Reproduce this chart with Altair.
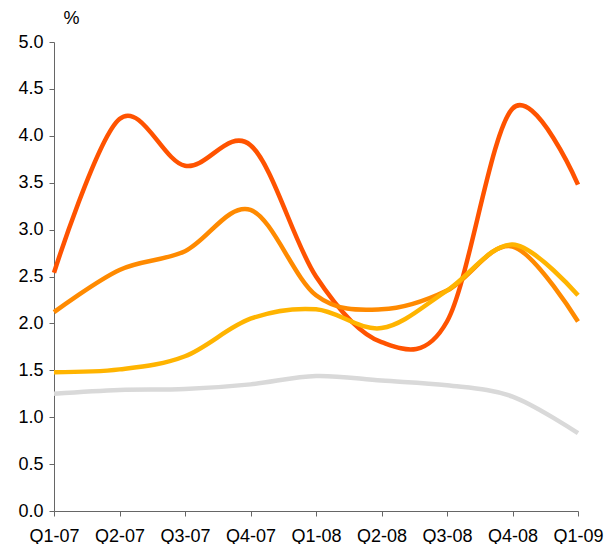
import altair as alt
import pandas as pd

quarters = ["Q1-07", "Q2-07", "Q3-07", "Q4-07", "Q1-08", "Q2-08", "Q3-08", "Q4-08", "Q1-09"]
series_names = ["A", "B", "C", "D"]
red_vals = [2.54, 4.18, 3.68, 3.90, 2.50, 1.80, 2.02, 4.29, 3.48]
orange_vals = [2.12, 2.57, 2.77, 3.21, 2.30, 2.15, 2.35, 2.82, 2.02]
yellow_vals = [1.48, 1.51, 1.65, 2.05, 2.15, 1.95, 2.35, 2.84, 2.30]
gray_vals = [1.25, 1.29, 1.30, 1.35, 1.44, 1.39, 1.34, 1.22, 0.83]
colors = ["#FF5300", "#FF8A00", "#FFB400", "#D9D9D9"]

rows = []
for name, vals in zip(series_names, [red_vals, orange_vals, yellow_vals, gray_vals]):
    for i, (q, v) in enumerate(zip(quarters, vals)):
        rows.append({"quarter": q, "value": v, "series": name, "order": i})
df = pd.DataFrame(rows)

chart = alt.Chart(df).mark_line(interpolate="cardinal", tension=0, strokeWidth=4.5).encode(
    x=alt.X("quarter:N", sort=quarters, scale=alt.Scale(type="point", padding=0),
            axis=alt.Axis(title=None, labelAngle=0, labelFontSize=18, labelFont="Liberation Sans",
                          labelColor="#000000", labelPadding=11, tickSize=5,
                          domainColor="#666666", tickColor="#666666", grid=False)),
    y=alt.Y("value:Q", scale=alt.Scale(domain=[0, 5], nice=False),
            axis=alt.Axis(title="%", titleAngle=0, titleX=17, titleY=-33, titleAlign="center",
                          titleBaseline="top", titleFontSize=18, titleFont="Liberation Sans",
                          titleFontWeight="normal", titleColor="#000000",
                          values=[0, 0.5, 1, 1.5, 2, 2.5, 3, 3.5, 4, 4.5, 5], format=".1f",
                          labelFontSize=18, labelFont="Liberation Sans", labelColor="#000000",
                          labelPadding=6, tickSize=5, domainColor="#666666", tickColor="#666666",
                          grid=False)),
    color=alt.Color("series:N", scale=alt.Scale(domain=series_names, range=colors), legend=None),
    order="order:Q",
).properties(
    width=524, height=469,
    autosize=alt.AutoSizeParams(type="none"),
    padding={"left": 46, "top": 34, "right": 28, "bottom": 33},
).configure_view(stroke=None)

chart.save("out.html", embed_options={"renderer": "svg", "actions": False})
